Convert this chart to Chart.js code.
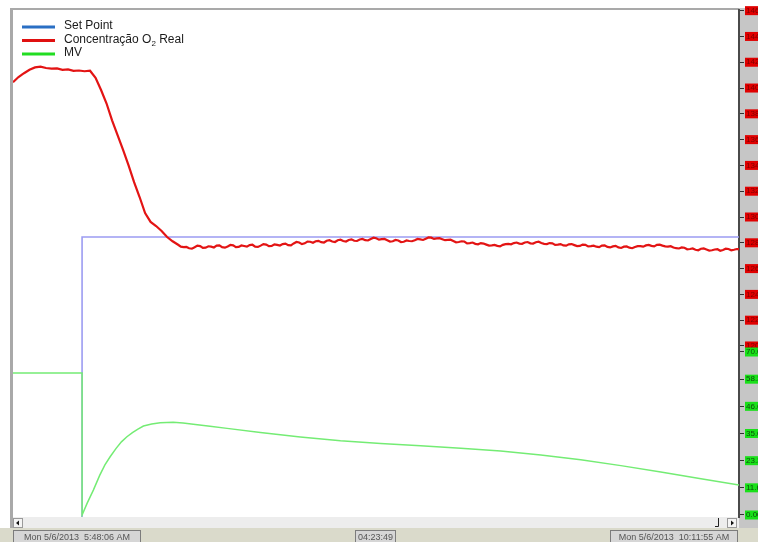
<!DOCTYPE html>
<html>
<head>
<meta charset="utf-8">
<script src="https://cdn.jsdelivr.net/npm/chart.js@4/dist/chart.umd.min.js"></script>
<style>
  html, body { margin: 0; padding: 0; background: #fff; overflow: hidden; }
  #wrap { width: 758px; height: 542px; position: relative; }
</style>
</head>
<body>
<div id="wrap"><canvas id="c" width="758" height="542"></canvas></div>
<script>
// Trend window: minutes elapsed since 5:48:06 AM (window length 04:23:49)
const windowMinutes = 263.82;

// O2 concentration: 2-minute samples up to the settling, then 1-minute samples
const o2Times = [
  0,2,4,6,8,10,12,14,16,18,20,22,24,26,28,30,32,34,36,38,40,42,44,46,48,50,52,54,56,58,
  60,61,62,63,64,65,66,67,68,69,70,71,72,73,74,75,76,77,78,79,80,81,82,83,84,85,86,87,88,89,
  90,91,92,93,94,95,96,97,98,99,100,101,102,103,104,105,106,107,108,109,110,111,112,113,114,115,
  116,117,118,119,120,121,122,123,124,125,126,127,128,129,130,131,132,133,134,135,136,137,138,139,
  140,141,142,143,144,145,146,147,148,149,150,151,152,153,154,155,156,157,158,159,160,161,162,163,
  164,165,166,167,168,169,170,171,172,173,174,175,176,177,178,179,180,181,182,183,184,185,186,187,
  188,189,190,191,192,193,194,195,196,197,198,199,200,201,202,203,204,205,206,207,208,209,210,211,
  212,213,214,215,216,217,218,219,220,221,222,223,224,225,226,227,228,229,230,231,232,233,234,235,
  236,237,238,239,240,241,242,243,244,245,246,247,248,249,250,251,252,253,254,255,256,257,258,259,
  260,261,262,263,264
];
const o2Values = [
  140.45,140.85,141.15,141.42,141.60,141.66,141.55,141.50,141.52,141.41,141.44,141.33,141.36,141.30,141.34,
  140.80,139.85,138.80,137.50,136.35,135.20,134.00,132.70,131.55,130.30,129.62,129.30,128.92,128.45,128.12,
  127.85,127.70,127.66,127.68,127.58,127.55,127.66,127.78,127.74,127.60,127.62,127.73,127.70,127.64,127.78,
  127.80,127.66,127.62,127.72,127.83,127.80,127.66,127.68,127.79,127.75,127.70,127.82,127.85,127.70,127.68,
  127.78,127.90,127.86,127.74,127.76,127.88,127.84,127.79,127.90,127.94,127.82,127.80,127.95,128.06,128.02,
  127.90,127.96,128.10,128.08,128.00,128.12,128.15,128.05,128.02,128.16,128.20,128.10,128.06,128.20,128.24,
  128.14,128.10,128.22,128.27,128.16,128.14,128.26,128.30,128.20,128.18,128.30,128.40,128.35,128.24,128.28,
  128.30,128.20,128.10,128.12,128.22,128.18,128.06,128.08,128.18,128.14,128.12,128.20,128.30,128.26,128.22,
  128.32,128.42,128.40,128.30,128.34,128.36,128.28,128.20,128.22,128.24,128.14,128.04,128.06,128.12,128.10,
  127.96,127.98,128.02,127.92,127.88,127.98,127.94,127.86,127.78,127.80,127.84,127.76,127.72,127.84,127.90,
  127.92,127.88,127.98,128.02,127.94,127.92,128.02,128.06,127.96,127.94,128.04,128.08,127.98,127.92,127.90,
  127.98,127.96,127.84,127.86,127.90,127.80,127.78,127.88,127.90,127.82,127.74,127.76,127.86,127.84,127.72,
  127.74,127.78,127.70,127.66,127.78,127.80,127.68,127.64,127.72,127.76,127.64,127.60,127.70,127.72,127.62,
  127.58,127.68,127.74,127.74,127.70,127.80,127.84,127.76,127.72,127.84,127.86,127.78,127.72,127.70,127.74,
  127.64,127.58,127.56,127.64,127.62,127.50,127.52,127.56,127.46,127.42,127.54,127.56,127.48,127.40,127.42,
  127.48,127.50,127.38,127.44,127.54,127.52,127.42,127.46,127.52,127.50
];

// Set point (below the visible range before the step)
const spTimes  = [0, 25.1, 25.1, 263.82];
const spValues = [100, 100, 128.45, 128.45];

// Controller output MV (%)
const mvTimes = [
  0, 25.1, 25.1, 27.0, 29.2, 31.5, 33.4, 35.3, 37.4, 39.4, 41.4, 43.4, 45.4, 47.4, 50.4, 53.5,
  58.2, 61.8, 65.5, 71.6, 77.8, 89.9, 104.4, 119.0, 133.6, 148.1, 162.7, 177.2, 191.8, 206.3,
  220.9, 235.4, 250.0, 263.82
];
const mvValues = [
  61.0, 61.0, 0.0, 5.2, 10.7, 17.0, 21.5, 25.0, 28.5, 31.4, 33.6, 35.4, 36.9, 38.2, 39.1, 39.6,
  39.8, 39.5, 39.0, 38.1, 37.2, 35.4, 33.5, 31.9, 30.7, 29.7, 28.7, 27.5, 25.8, 23.7,
  21.2, 18.5, 15.6, 12.9
];

// Axis ranges and ticks
const o2Range = [106.74, 146.05];
const mvRange = [-0.86, 216.87];
const o2TickValues = [120,122,124,126,128,130,132,134,136,138,140,142,144,146];
const o2TickLabels = ["120.0","122.0","124.0","126.0","128.0","130.0","132.0","134.0","136.0","138.0","140.0","142.0","144.0","146.0"];
const mvTickValues = [0, 11.67, 23.33, 35.0, 46.67, 58.33, 70.0];
const mvTickLabels = ["0.00","11.6","23.3","35.0","46.6","58.3","70.0"];

// Status bar texts
const startLabel = "Mon 5/6/2013  5:48:06 AM";
const spanLabel = "04:23:49";
const endLabel = "Mon 5/6/2013  10:11:55 AM";

const seriesNames = ["Set Point", "Concentração O₂ Real", "MV"];

function pts(xs, ys) { return xs.map((x, i) => ({ x: x, y: ys[i] })); }

// MV values placed on the shared right-hand axis
function mvOnO2Axis(v) {
  const f = (v - mvRange[0]) / (mvRange[1] - mvRange[0]);
  return o2Range[0] + f * (o2Range[1] - o2Range[0]);
}

const framePlugin = {
  id: 'frame',
  beforeDraw(chart) {
    const ctx = chart.ctx, a = chart.chartArea, W = chart.width, H = chart.height;
    ctx.save();
    ctx.fillStyle = '#ffffff';
    ctx.fillRect(0, 0, W, H);
    // right axis panel
    ctx.fillStyle = '#c6c6c6';
    ctx.fillRect(a.right, 8, W - a.right, 522);
    // left and top frame
    ctx.fillStyle = '#a9a9a9';
    ctx.fillRect(10, 8, 3, 520);
    ctx.fillRect(10, 8, a.right - 10, 2);
    // scroll strip
    ctx.fillStyle = '#ededed';
    ctx.fillRect(13, a.bottom, a.right - 13, 11);
    const btn = (x) => {
      ctx.fillStyle = '#f4f4f4';
      ctx.fillRect(x, a.bottom + 1, 9, 9);
      ctx.strokeStyle = '#9a9a9a';
      ctx.lineWidth = 1;
      ctx.strokeRect(x + 0.5, a.bottom + 1.5, 9, 9);
    };
    btn(13);
    btn(a.right - 12);
    ctx.fillStyle = '#111';
    ctx.beginPath();
    ctx.moveTo(16, a.bottom + 6); ctx.lineTo(19, a.bottom + 3.5); ctx.lineTo(19, a.bottom + 8.5); ctx.closePath(); ctx.fill();
    ctx.beginPath();
    const rx = a.right - 12;
    ctx.moveTo(rx + 7, a.bottom + 6); ctx.lineTo(rx + 4, a.bottom + 3.5); ctx.lineTo(rx + 4, a.bottom + 8.5); ctx.closePath(); ctx.fill();
    ctx.strokeStyle = '#222';
    ctx.beginPath();
    ctx.moveTo(a.right - 20.5, a.bottom + 1); ctx.lineTo(a.right - 20.5, a.bottom + 9.5); ctx.lineTo(a.right - 24, a.bottom + 9.5);
    ctx.stroke();
    // status bar
    ctx.fillStyle = '#dadacb';
    ctx.fillRect(0, 528, W, H - 528);
    const box = (x, w, text) => {
      ctx.fillStyle = '#d6d6d6';
      ctx.fillRect(x, 530, w, 12);
      ctx.strokeStyle = '#7c7c7c';
      ctx.strokeRect(x + 0.5, 530.5, w - 1, 12);
      ctx.fillStyle = '#555';
      ctx.font = '9px "Liberation Sans", Arial, sans-serif';
      ctx.textBaseline = 'alphabetic';
      ctx.textAlign = 'center';
      ctx.fillText(text, x + w / 2, 540);
    };
    box(13, 128, startLabel);
    box(355, 41, spanLabel);
    box(610, 128, endLabel);
    ctx.restore();
  },
  afterDraw(chart) {
    // legend in the upper-left corner of the plot
    const ctx = chart.ctx;
    const colors = ['#2a6fc4', '#e01010', '#22dd22'];
    const rows = [27, 40.5, 54];
    ctx.save();
    ctx.textBaseline = 'alphabetic';
    ctx.textAlign = 'left';
    seriesNames.forEach((name, i) => {
      const y = rows[i];
      ctx.strokeStyle = colors[i];
      ctx.lineWidth = 3;
      ctx.beginPath();
      ctx.moveTo(22, y);
      ctx.lineTo(55, y);
      ctx.stroke();
      ctx.fillStyle = '#1a1a1a';
      let x = 64;
      const parts = name.split('₂');
      parts.forEach((p, k) => {
        ctx.font = '12px "Liberation Sans", Arial, sans-serif';
        ctx.fillText(p, x, y + 2);
        x += ctx.measureText(p).width;
        if (k < parts.length - 1) {
          ctx.font = '8px "Liberation Sans", Arial, sans-serif';
          ctx.fillText('2', x, y + 5);
          x += ctx.measureText('2').width;
        }
      });
    });
    ctx.restore();
  }
};

new Chart(document.getElementById('c'), {
  type: 'line',
  data: {
    datasets: [
      { label: seriesNames[0], data: pts(spTimes, spValues), yAxisID: 'yO2',
        borderColor: '#9c9cf2', borderWidth: 1.6, pointRadius: 0, tension: 0, order: 2 },
      { label: seriesNames[1], data: pts(o2Times, o2Values), yAxisID: 'yO2',
        borderColor: '#e31414', borderWidth: 2.2, pointRadius: 0, tension: 0, order: 0 },
      { label: seriesNames[2], data: pts(mvTimes, mvValues), yAxisID: 'yMV',
        borderColor: '#74ec74', borderWidth: 1.5, pointRadius: 0, tension: 0, order: 1 }
    ]
  },
  options: {
    responsive: false,
    animation: false,
    layout: { padding: { left: 13, top: 10, right: 0, bottom: 25 } },
    plugins: { legend: { display: false }, tooltip: { enabled: false } },
    scales: {
      x: { type: 'linear', min: 0, max: windowMinutes, display: false },
      yMV: { type: 'linear', min: mvRange[0], max: mvRange[1], display: false },
      yO2: {
        type: 'linear', position: 'right', min: o2Range[0], max: o2Range[1],
        afterFit(scale) { scale.width = 19; },
        afterBuildTicks(scale) {
          const t = [];
          o2TickValues.forEach((v, i) => t.push({ value: v, text: o2TickLabels[i], kind: 'o2' }));
          mvTickValues.forEach((v, i) => t.push({ value: mvOnO2Axis(v), text: mvTickLabels[i], kind: 'mv' }));
          scale.ticks = t;
        },
        grid: { drawOnChartArea: false, tickLength: 5, color: '#333', lineWidth: 1 },
        border: { display: true, color: '#4a4a4a', width: 2 },
        ticks: {
          autoSkip: false,
          padding: 2,
          font: { family: '"Liberation Sans", Arial, sans-serif', size: 8, lineHeight: 1 },
          color: (c) => c.tick && c.tick.kind === 'mv' ? '#0b4d0b' : '#7e0000',
          showLabelBackdrop: true,
          backdropColor: (c) => c.tick && c.tick.kind === 'mv' ? '#19e019' : '#e00000',
          backdropPadding: { top: 0.5, bottom: 0.5, left: 1, right: 20 },
          callback: (value, index, ticks) => ticks[index].text
        }
      }
    }
  },
  plugins: [framePlugin]
});
</script>
</body>
</html>
